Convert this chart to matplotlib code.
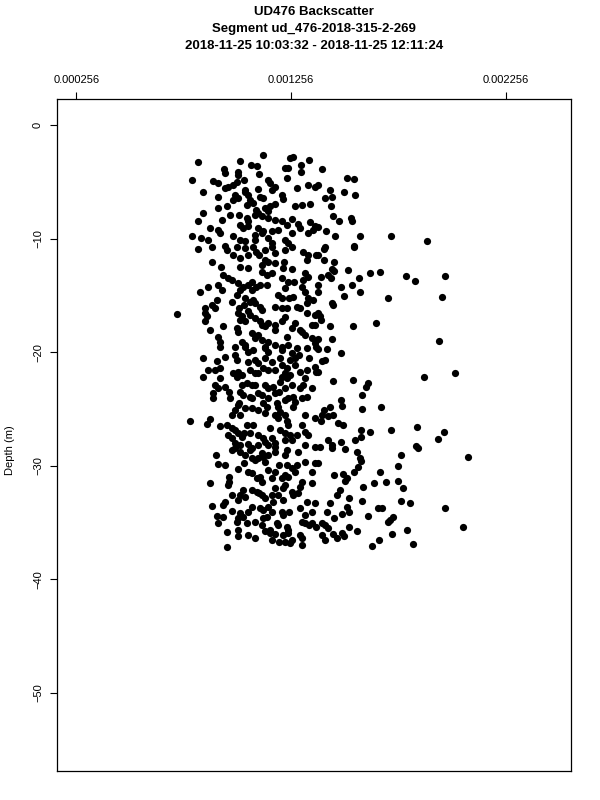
import matplotlib
matplotlib.use("Agg")
import matplotlib.pyplot as plt

plt.rcParams['font.family'] = ['Liberation Sans', 'DejaVu Sans']

title_lines = ["UD476 Backscatter", "Segment ud_476-2018-315-2-269",
               "2018-11-25 10:03:32 - 2018-11-25 12:11:24"]
y_label = "Depth (m)"
x_ticks = [0.000256, 0.001256, 0.002256]
x_tick_labels = ["0.000256", "0.001256", "0.002256"]
y_ticks = [0, -10, -20, -30, -40, -50]
y_tick_labels = ["0", "\u221210", "\u221220", "\u221230", "\u221240", "\u221250"]

# backscatter values in units of 1e-3
backscatter_milli = [
0.824,1.018,1.127,1.070,1.100,1.251,1.267,1.340,1.228,1.240,1.303,1.303,0.945,0.949,1.011,1.011,1.107,0.796,0.891,0.914,
1.236,1.003,0.988,0.964,0.949,1.150,1.158,1.181,0.847,1.042,1.104,1.282,1.336,1.368,0.995,1.011,0.988,1.057,1.065,1.080,
1.111,1.212,1.220,1.166,0.917,0.914,0.960,1.049,1.275,1.306,1.345,1.095,1.103,1.088,1.134,1.150,1.158,1.181,0.847,0.972,
1.014,1.049,0.824,0.933,1.150,1.181,1.212,1.236,1.259,1.298,1.290,1.345,1.368,0.917,0.925,1.018,1.034,1.057,1.104,1.127,
1.197,0.793,0.839,0.871,0.988,1.018,1.042,1.088,1.150,1.166,1.228,1.243,1.336,1.360,
1.399,1.515,1.551,1.383,1.438,1.448,1.414,1.504,1.554,1.442,1.453,1.480,1.534,1.542,1.383,1.417,1.461,1.578,1.722,1.888,
1.551,1.414,
0.824,0.886,0.956,1.003,1.042,1.080,1.018,0.988,1.057,1.095,1.134,1.166,1.181,1.228,1.259,1.150,1.119,1.181,1.220,1.259,
1.313,1.336,1.375,0.886,0.930,1.057,1.018,1.321,1.336,0.940,0.964,0.979,1.142,1.212,1.011,1.034,1.057,1.018,1.003,1.073,
1.095,1.142,0.917,0.871,0.832,0.933,1.243,1.313,1.306,1.321,1.336,1.197,1.212,1.267,0.910,0.886,0.902,1.042,1.065,1.080,
1.088,1.111,1.119,1.181,1.212,1.236,1.282,1.298,1.329,1.360,0.723,0.856,0.863,1.011,1.026,1.018,1.057,1.065,1.088,1.111,
1.119,1.150,1.181,1.275,1.329,1.368,1.368,1.352,0.856,0.879,0.940,1.003,1.011,1.073,1.104,1.119,1.150,0.917,0.925,1.026,
1.042,1.236,1.306,1.321,1.352,1.368,1.181,1.212,1.243,
1.411,1.551,1.383,1.411,1.458,1.445,1.458,1.520,1.624,1.671,1.790,1.834,1.974,1.396,1.430,1.442,1.573,1.383,1.489,1.542,
1.578,1.383,1.504,1.709,1.961,1.445,1.453,1.383,1.391,1.396,1.438,1.546,1.650,1.383,1.448,1.947,
0.925,0.995,1.057,1.080,1.134,1.150,1.212,1.282,1.329,1.375,0.847,0.910,0.949,0.995,1.003,1.057,1.088,1.104,1.134,1.204,
1.251,1.275,1.259,1.368,1.375,0.871,0.902,0.925,0.988,1.003,1.011,1.026,1.065,1.104,1.150,1.236,0.847,0.925,1.212,1.236,
1.251,1.321,0.902,0.917,1.049,1.073,1.134,1.150,1.174,1.259,1.298,1.313,1.352,0.893,0.893,1.018,1.034,1.065,1.104,1.181,
1.150,0.972,1.243,1.267,1.306,1.329,1.011,1.042,1.127,1.142,1.189,1.197,1.267,1.104,0.979,1.018,1.134,1.181,1.197,1.228,
1.236,1.243,1.321,1.368,0.785,0.879,0.863,0.925,0.956,0.979,1.049,1.080,1.158,1.306,0.964,0.979,1.011,1.026,1.065,1.104,
1.127,1.204,1.228,1.251,1.282,1.321,1.336,0.995,1.057,1.104,1.150,1.181,
1.383,1.422,1.489,1.399,1.414,1.383,1.453,1.546,1.616,1.608,1.874,2.020,1.588,1.489,1.492,1.438,1.588,1.675,1.408,1.399,
1.430,1.453,1.396,1.476,1.499,1.582,1.624,1.722,1.843,1.970,1.942,1.427,1.489,1.554,1.582,1.446,1.839,
0.905,0.979,0.995,1.018,1.042,1.065,1.088,1.104,1.127,1.150,1.181,1.181,1.236,1.290,1.368,0.917,0.949,1.011,1.150,1.181,
1.236,1.282,1.321,1.368,1.352,0.968,0.968,1.057,1.073,1.096,1.111,1.119,1.212,1.243,1.228,1.220,1.306,1.298,1.352,0.879,
0.964,1.034,1.018,1.042,1.011,1.096,1.119,1.181,1.166,1.197,1.220,1.174,1.267,1.290,0.979,0.949,0.940,0.886,1.073,1.111,
1.127,1.150,1.166,1.212,1.220,1.298,1.368,1.018,1.034,1.011,1.057,0.940,1.127,1.142,1.321,0.917,1.003,1.049,1.119,1.189,
1.197,1.236,1.243,1.306,1.321,1.352,1.375,0.956,1.011,1.011,1.057,1.134,1.158,1.181,1.220,1.243,1.298,1.306,1.228,1.251,
1.166,1.306,0.960,
1.391,1.445,1.508,1.566,1.578,1.582,1.849,1.768,2.079,1.570,1.757,1.671,1.551,1.458,1.500,1.515,1.508,1.383,1.593,1.644,
1.701,1.753,1.780,1.485,1.469,1.528,1.585,1.768,1.810,1.438,1.515,1.527,1.663,1.678,1.974,1.422,1.492,1.458,1.616,1.733,
1.717,1.709,1.399,1.414,1.430,1.528,1.562,1.795,2.059,1.399,1.414,1.453,1.469,1.492,1.504,1.725,1.666,1.632,1.826,
# denser core
0.880,1.035,1.128,1.043,1.121,1.058,1.090,1.121,1.168,1.261,1.105,1.136,1.222,1.330,1.121,1.168,1.074,1.113,1.230,1.268,
0.981,1.012,1.035,1.245,1.043,1.136,1.183,1.214,1.230,1.261,1.299,1.090,0.857,0.950,
1.043,1.136,1.168,1.292,1.338,1.090,1.128,1.183,1.230,1.299,1.331,0.950,1.028,1.090,1.206,1.230,1.276,1.214,0.965,1.074,
1.012,1.121,1.198,1.230,1.276,0.997,1.074,1.206,0.997,1.035,1.136,1.168,1.230,1.261,1.020,1.074,1.121,1.230,1.322,1.035,
1.074,1.136,1.198,1.261,1.168,1.230,1.276,1.074,1.136,1.261,1.245,1.331,1.354,1.090,1.160,1.261,1.338,1.198,1.090,0.981,
0.911,1.105,
]

depth_m = [
-3.21,-3.12,-2.62,-3.50,-3.56,-2.91,-2.85,-3.08,-3.79,-3.74,-3.50,-4.09,-3.85,-4.23,-4.09,-4.38,-4.32,-4.82,-4.91,-5.11,
-4.67,-4.97,-5.26,-5.41,-5.55,-4.82,-5.11,-5.41,-5.85,-5.70,-5.61,-5.50,-5.32,-5.41,-6.14,-6.43,-6.58,-6.14,-6.58,-6.87,
-6.29,-6.14,-6.49,-5.70,-6.29,-7.31,-7.17,-7.02,-7.17,-7.02,-6.96,-7.46,-7.75,-7.90,-7.31,-7.61,-7.17,-6.96,-7.75,-7.90,
-7.90,-8.19,-8.49,-8.34,-8.19,-8.34,-8.49,-8.78,-8.25,-9.07,-8.72,-8.55,-8.93,-9.22,-9.52,-8.78,-9.07,-8.93,-9.07,-9.31,
-9.22,-9.81,-9.95,-10.10,-9.81,-10.10,-10.25,-10.10,-9.95,-10.40,-10.10,-10.40,-9.52,-9.22,
-3.85,-4.67,-4.76,-5.26,-5.70,-6.29,-6.43,-5.85,-6.20,-7.17,-8.05,-8.43,-8.19,-8.49,-9.02,-9.37,-9.73,-9.81,-9.75,-10.19,
-10.61,-10.70,
-10.90,-10.78,-10.99,-10.70,-10.84,-10.70,-11.72,-11.43,-11.43,-11.14,-10.99,-10.70,-11.28,-10.99,-10.78,-12.02,-12.31,-12.16,-12.60,-12.66,
-11.14,-11.43,-11.43,-12.02,-12.46,-12.60,-12.46,-13.04,-13.34,-13.19,-13.48,-13.63,-13.19,-13.48,-13.95,-14.25,-14.10,-14.54,-14.98,-14.54,
-14.25,-14.10,-14.10,-14.25,-14.69,-14.54,-13.80,-13.65,-14.25,-14.69,-15.27,-14.98,-15.27,-15.13,-15.39,-15.83,-16.13,-15.24,-15.54,-15.39,
-15.68,-15.98,-16.27,-15.98,-16.13,-16.07,-15.98,-16.13,-15.68,-15.39,-16.65,-16.57,-16.86,-16.57,-16.86,-17.16,-16.42,-16.71,-17.01,-17.30,
-17.60,-17.45,-17.60,-17.45,-16.57,-16.71,-17.60,-17.60,-17.30,-18.03,-17.74,-17.89,-18.19,-18.33,-18.48,-18.92,-19.07,-18.63,-19.07,-19.07,
-19.36,-18.63,-18.19,-18.48,-18.77,-19.21,-19.36,-19.51,-19.36,
-10.90,-10.70,-11.43,-11.87,-12.02,-12.66,-12.84,-12.75,-13.04,-12.90,-13.28,-13.69,-13.30,-13.37,-13.19,-13.43,-13.43,-14.10,-14.25,-14.10,
-14.66,-14.66,-15.07,-15.19,-15.10,-15.68,-15.89,-16.57,-16.86,-17.16,-17.74,-17.66,-17.39,-18.83,-18.80,-19.00,
-19.51,-19.51,-19.95,-19.80,-19.51,-19.95,-19.80,-19.66,-19.66,-19.51,-20.48,-20.77,-20.39,-20.24,-20.68,-20.83,-20.68,-20.97,-20.53,-20.53,
-20.68,-20.53,-20.09,-21.27,-21.71,-21.56,-21.56,-21.41,-21.85,-22.15,-21.71,-22.00,-21.56,-21.85,-21.56,-21.36,-22.15,-22.29,-22.15,-22.29,
-22.00,-22.29,-22.88,-23.17,-22.73,-22.88,-22.88,-23.17,-23.03,-22.88,-23.17,-22.88,-23.17,-23.61,-24.05,-23.47,-23.76,-23.91,-23.61,-23.61,
-24.05,-24.05,-24.05,-23.91,-24.05,-23.91,-24.64,-24.94,-24.49,-24.79,-24.49,-24.79,-24.79,-25.08,-25.52,-25.52,-25.37,-25.52,-25.82,-25.52,
-26.11,-26.41,-25.52,-25.82,-26.11,-25.88,-26.34,-26.47,-26.41,-26.70,-26.41,-26.41,-26.70,-26.41,-27.29,-27.58,-27.14,-27.44,-27.14,-27.29,
-27.58,-26.85,-27.14,-27.29,-27.29,-27.00,-27.29,-28.02,-28.11,-28.17,-28.17,-28.02,
-19.71,-19.71,-20.06,-20.77,-20.68,-21.71,-22.50,-22.44,-22.73,-23.03,-22.15,-21.85,-23.82,-24.20,-24.71,-24.82,-24.97,-24.82,-25.08,-25.52,
-25.67,-25.52,-26.11,-26.26,-26.41,-26.85,-27.05,-26.82,-26.58,-27.00,-27.67,-27.73,-27.88,-27.73,-27.52,-28.17,-28.23,
-29.05,-28.61,-28.46,-28.76,-29.05,-28.61,-29.49,-29.34,-29.20,-29.05,-28.76,-28.32,-28.61,-28.76,-28.32,-29.87,-29.93,-30.28,-30.37,-30.52,
-29.93,-29.93,-29.64,-29.78,-30.52,-30.96,-31.40,-30.52,-30.66,-31.10,-30.96,-31.40,-31.10,-30.96,-31.69,-31.98,-31.40,-31.84,-31.54,-31.54,
-31.69,-32.13,-32.57,-32.72,-33.01,-32.28,-32.57,-31.98,-32.57,-32.57,-33.01,-33.16,-32.57,-32.42,-32.57,-33.16,-33.45,-33.52,-33.60,-33.75,
-33.89,-33.60,-34.04,-34.04,-34.34,-33.75,-33.30,-34.19,-34.48,-34.63,-34.04,-34.48,-34.63,-34.48,-34.34,-35.07,-34.93,-35.07,-35.22,-35.07,
-35.22,-35.37,-35.66,-34.93,-35.07,-35.07,-35.37,-35.81,-35.66,-36.16,-36.10,-35.75,-35.95,-36.04,-36.10,-35.95,-36.10,-36.39,-36.69,-36.83,
-36.54,-36.98,-37.13,
-28.32,-28.46,-28.52,-28.81,-29.34,-29.58,-28.41,-29.05,-29.20,-30.08,-29.99,-30.52,-30.57,-30.81,-30.75,-31.10,-31.34,-29.78,-31.89,-31.49,
-31.40,-31.34,-31.93,-32.13,-32.57,-32.86,-33.10,-33.10,-33.30,-33.30,-33.60,-34.04,-33.75,-33.69,-33.69,-34.04,-34.25,-34.57,-34.42,-34.48,
-34.78,-34.93,-35.07,-35.22,-35.51,-35.37,-35.75,-35.66,-35.37,-36.10,-36.54,-36.04,-36.39,-35.95,-36.16,-36.04,-36.54,-37.04,-36.89,
# denser core
-9.07,-4.82,-6.43,-5.85,-8.05,-8.49,-9.67,-9.52,-9.37,-9.52,-11.43,-11.87,-12.02,-11.87,-12.90,-13.04,-13.78,-14.07,-14.36,-13.78,
-15.54,-16.12,-15.83,-15.24,-17.30,-17.74,-18.04,-17.30,-16.89,-17.89,-18.04,-18.77,-16.12,-10.63,
-19.51,-19.65,-20.83,-20.24,-20.53,-21.85,-21.41,-21.56,-21.85,-21.71,-21.56,-23.03,-22.88,-22.88,-22.59,-23.17,-21.12,-21.12,-23.47,-24.05,
-24.49,-23.76,-23.47,-24.20,-24.38,-25.08,-24.93,-25.23,-26.85,-27.14,-27.88,-27.58,-27.73,-27.73,-28.17,-28.46,-28.90,-29.05,-28.17,-29.78,
-29.34,-29.67,-29.93,-30.22,-31.10,-30.81,-30.52,-32.13,-32.86,-32.28,-34.04,-33.16,-34.04,-34.93,-35.66,-36.54,-35.22,-36.69,-36.36,-33.98,
-34.40,-32.42,
]

backscatter = [v * 1e-3 for v in backscatter_milli]

fig = plt.figure(figsize=(6, 8), dpi=100)
ax = fig.add_axes([57/600, 1-771/800, 514/600, 672/800])

ax.plot(backscatter, depth_m, 'o', color='black', markersize=5.2,
        markeredgewidth=0, linestyle='none')

ax.set_xlim(0.0001657, 0.002561)
ax.set_ylim(-56.9, 2.3)

ax.xaxis.tick_top()
ax.set_xticks(x_ticks)
ax.set_xticklabels(x_tick_labels, fontsize=8)
ax.set_yticks(y_ticks)
ax.set_yticklabels(y_tick_labels, fontsize=8, rotation=90, va='center')
ax.tick_params(axis='both', direction='out', length=5, width=0.8, pad=5, color='black')
for s in ax.spines.values():
    s.set_linewidth(0.9)

fig.text(10/600, 1-450/800, y_label, rotation=90, ha='center', va='center', fontsize=8)

ys = [12, 29, 46]
for t, yy in zip(title_lines, ys):
    fig.text(314/600, 1-yy/800, t, ha='center', va='center', fontsize=9.5, fontweight='bold')

fig.savefig("out.png", dpi=100)
